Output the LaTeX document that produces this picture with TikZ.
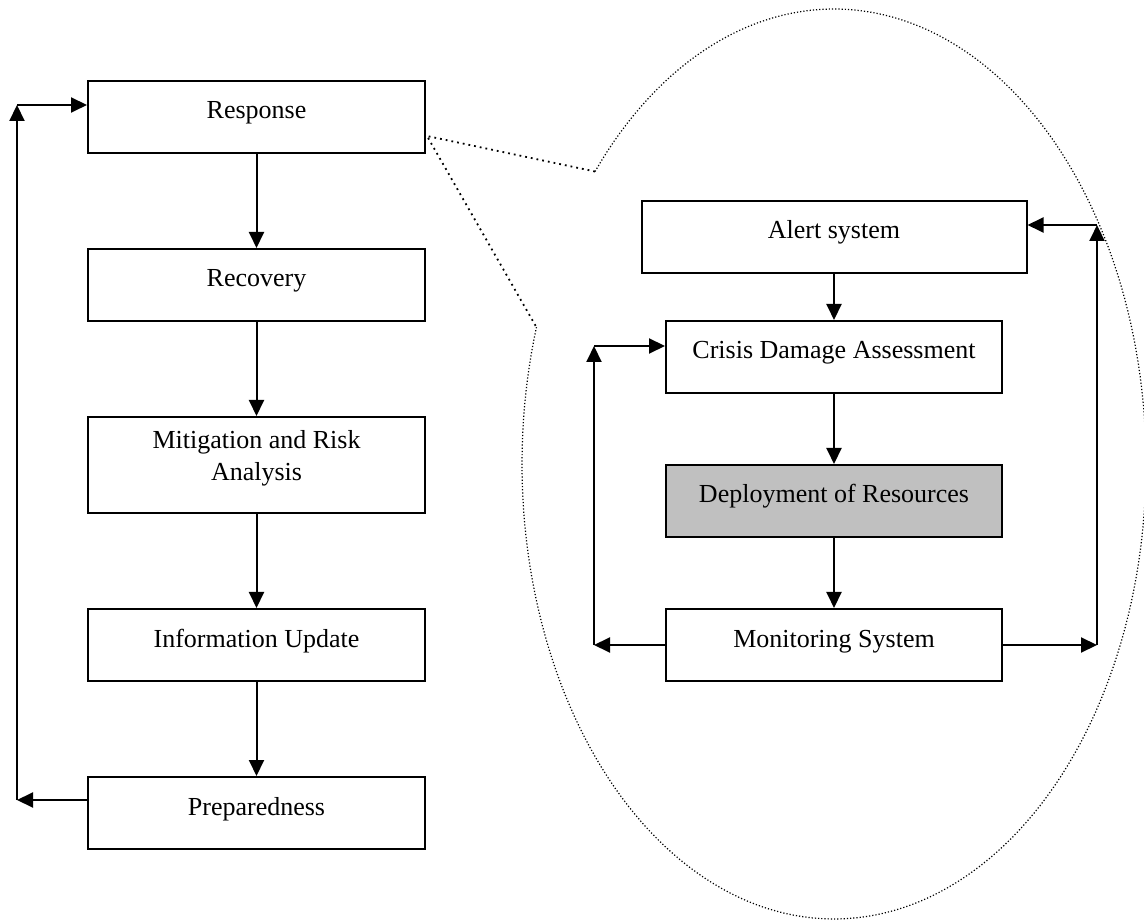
\documentclass[tikz,border=0pt]{standalone}
\usepackage{fontspec}
\setmainfont{Liberation Serif}
\usetikzlibrary{arrows.meta}

\tikzset{
  box/.style={draw, line width=1pt, rectangle, inner sep=0pt,
    minimum width=168.5pt, minimum height=36pt, align=center,
    font=\fontsize{13}{16}\selectfont},
  onel/.style={box, text height=9pt, text depth=7pt},
  arr/.style={-{Triangle[length=8pt,width=7.5pt]}, line width=1pt},
  ptr/.style={dotted, line width=0.9pt},
  ell/.style={densely dotted, line width=0.6pt}
}

\begin{document}
\begin{tikzpicture}[x=0.5pt, y=0.5pt]
  \useasboundingbox (0,0) rectangle (1144,921);
  \clip (0,0) rectangle (1144,921);

  % main cycle
  \node[onel] (resp) at (256.5,804) {Response};
  \node[onel] (rec) at (256.5,636) {Recovery};
  \node[box, minimum height=48pt, text depth=10pt] (mit) at (256.5,456) {Mitigation and Risk\\Analysis};
  \node[onel] (info) at (256.5,276) {Information Update};
  \node[onel] (prep) at (256.5,108) {Preparedness};

  \draw[arr] (resp) -- (rec);
  \draw[arr] (rec) -- (mit);
  \draw[arr] (mit) -- (info);
  \draw[arr] (info) -- (prep);

  \coordinate (lb) at (17,121);
  \coordinate (lt) at (17,816);
  \draw[arr] (prep.west |- lb) -- (lb);
  \draw[arr] (lb) -- (lt);
  \draw[arr] (lt) -- (resp.west |- lt);

  % callout
  \coordinate (tip) at (427,785);
  \coordinate (p1) at (595,749.5);
  \coordinate (p2) at (536.4,593.8);
  \draw[ptr] (p1) -- (tip) -- (p2);
  \draw[ell] plot[domain=140:-197.5, samples=200] ({834+312*cos(\x)},{457+455*sin(\x)});

  % response detail
  \node[onel, minimum width=192.5pt] (alert) at (834,684) {Alert system};
  \node[onel, minimum width=168pt] (crisis) at (834,564) {Crisis Damage Assessment};
  \node[onel, minimum width=168pt, fill={rgb,255:red,192;green,192;blue,192}] (deploy) at (834,420) {Deployment of Resources};
  \node[onel, minimum width=168pt] (monit) at (834,276) {Monitoring System};

  \draw[arr] (alert) -- (crisis);
  \draw[arr] (crisis) -- (deploy);
  \draw[arr] (deploy) -- (monit);

  \coordinate (mlb) at (594,276);
  \coordinate (mlt) at (594,575);
  \draw[arr] (monit.west) -- (mlb);
  \draw[arr] (mlb) -- (mlt);
  \draw[arr] (mlt) -- (crisis.west |- mlt);

  \coordinate (mrb) at (1097,276);
  \coordinate (mrt) at (1097,696);
  \draw[arr] (monit.east) -- (mrb);
  \draw[arr] (mrb) -- (mrt);
  \draw[arr] (mrt) -- (alert.east |- mrt);
\end{tikzpicture}
\end{document}
